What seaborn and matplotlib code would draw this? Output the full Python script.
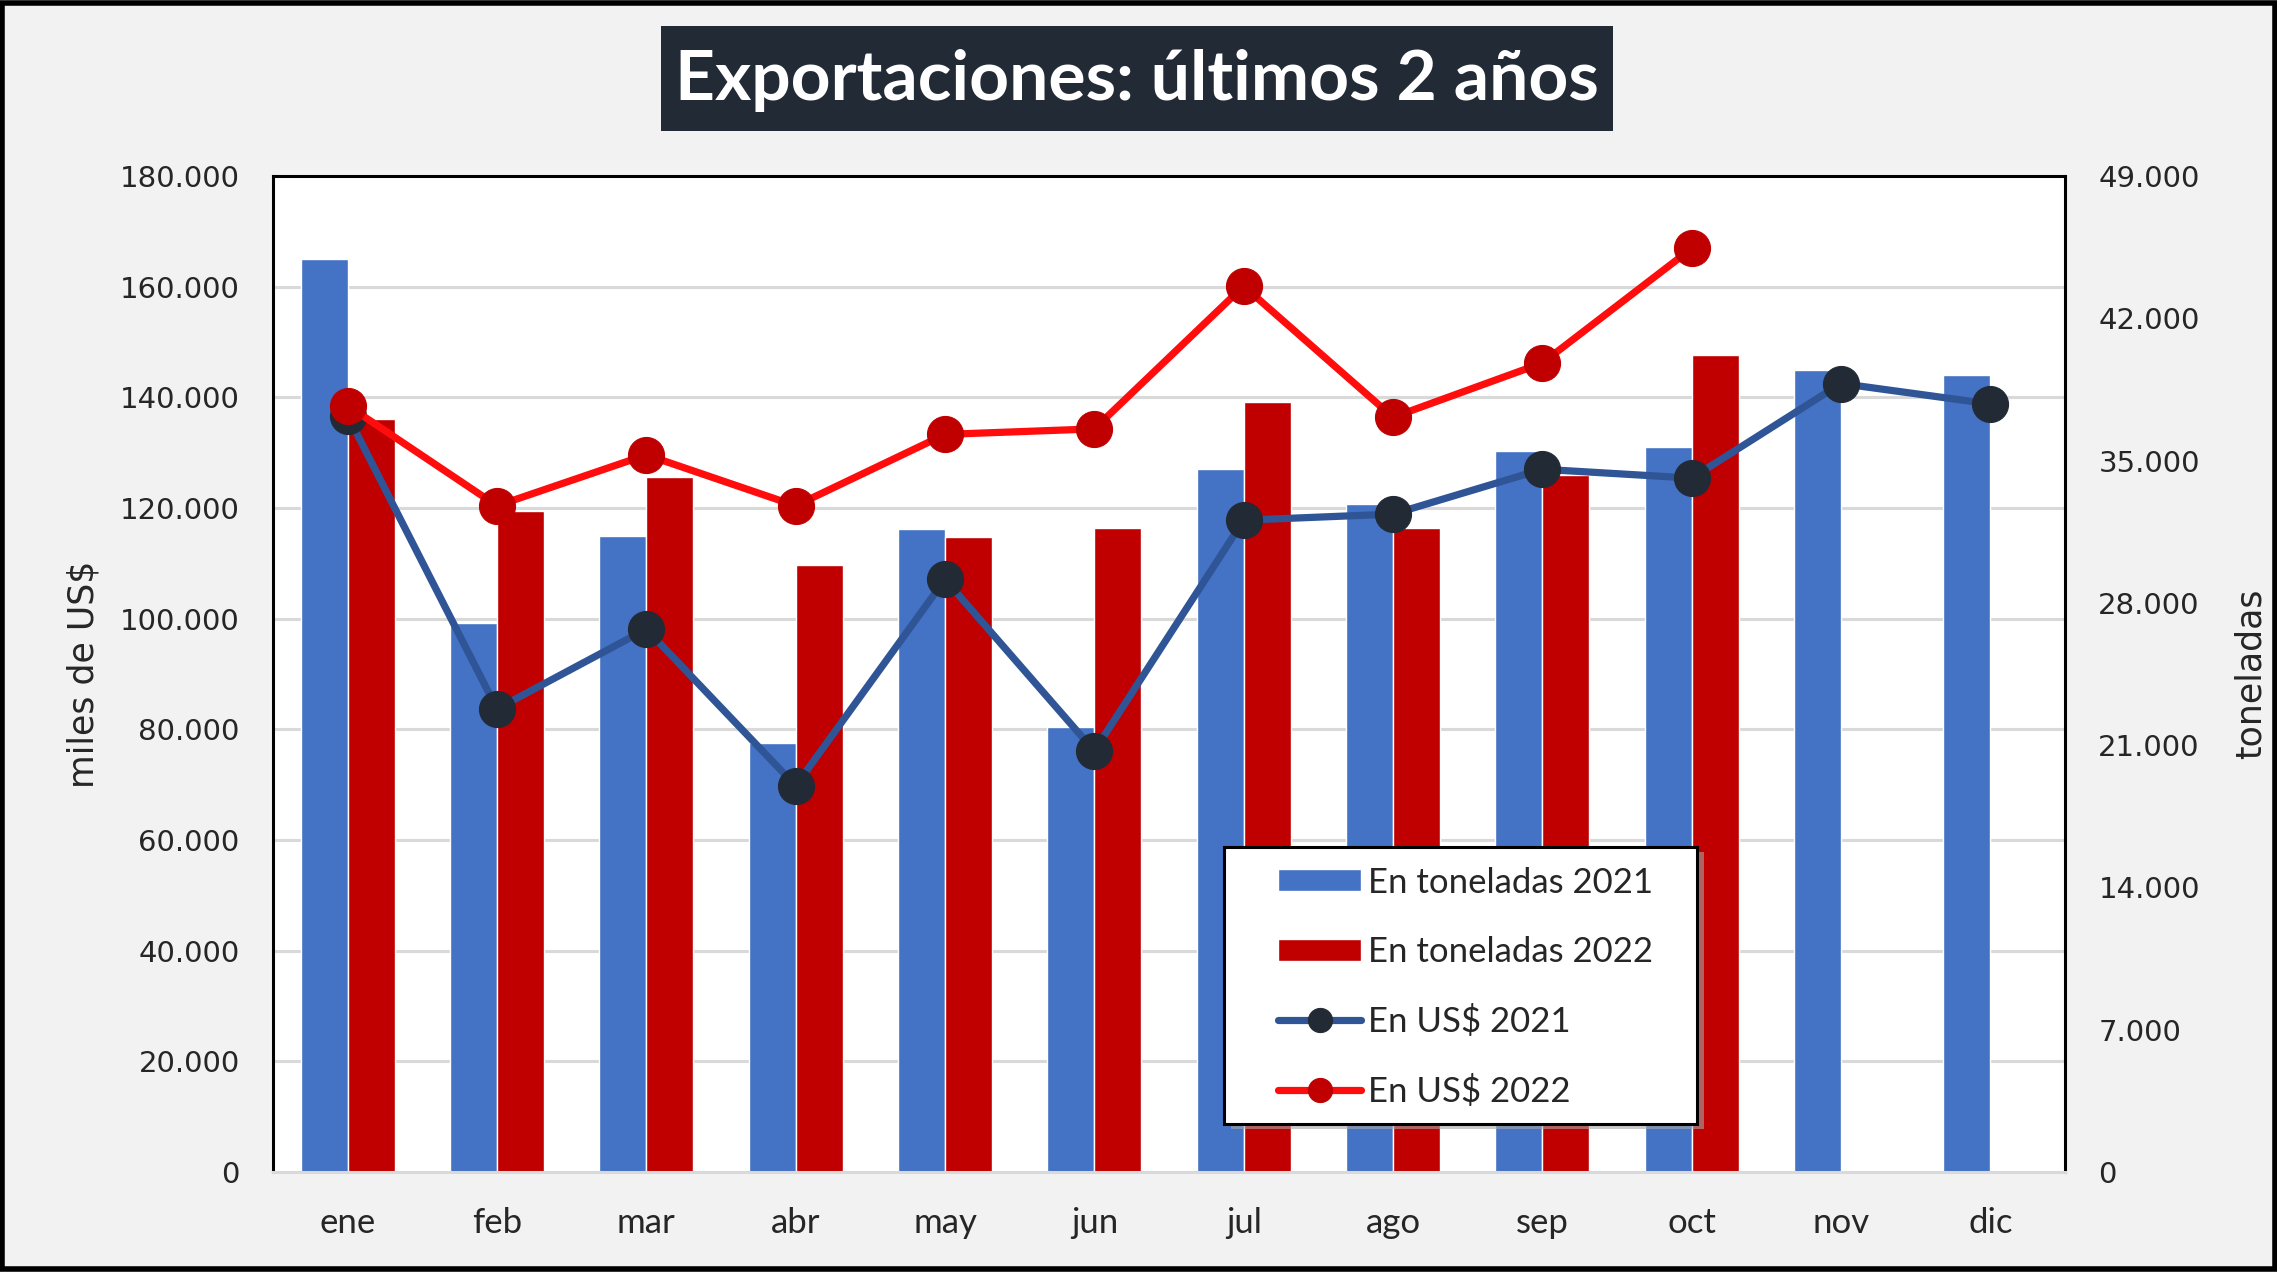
import numpy as np
import pandas as pd
import seaborn as sns
import matplotlib.pyplot as plt
from matplotlib.patches import Rectangle
from matplotlib.ticker import FixedLocator, FuncFormatter


months = ['ene', 'feb', 'mar', 'abr', 'may', 'jun', 'jul', 'ago', 'sep', 'oct', 'nov', 'dic']

# toneladas (eje derecho)
ton_2021 = [44930, 27000, 31300, 21100, 31650, 21900, 34600, 32850, 35450, 35650, 39450, 39200]
ton_2022 = [37050, 32500, 34200, 29850, 31250, 31700, 37900, 31700, 34300, 40200, np.nan, np.nan]

# miles de US$ (eje izquierdo)
usd_2021 = [136700, 83700, 98100, 69800, 107100, 76100, 117800, 118900, 127000, 125400, 142500, 138800]
usd_2022 = [138500, 120400, 129600, 120400, 133300, 134300, 160100, 136400, 146200, 166900]

bar_labels = ['En toneladas 2021', 'En toneladas 2022']
bar_colors = ['#4472C4', '#C00000']

sns.set_theme(style='white')
plt.rcParams['font.family'] = ['DejaVu Sans']

bars = pd.DataFrame({
    'mes': months * 2,
    'ton': ton_2021 + ton_2022,
    'serie': [bar_labels[0]] * 12 + [bar_labels[1]] * 12,
})
lin21 = pd.DataFrame({'mes': months, 'usd': usd_2021})
lin22 = pd.DataFrame({'mes': months[:len(usd_2022)], 'usd': usd_2022})

fig = plt.figure(figsize=(22.77, 12.72), dpi=100, facecolor='#F2F2F2')
ax = fig.add_axes([273 / 2277, 1 - 1172 / 1272, 1792 / 2277, 996 / 1272])
ax.set_facecolor('white')

sns.barplot(data=bars, x='mes', y='ton', hue='serie', order=months,
            hue_order=bar_labels, palette=bar_colors, width=0.63,
            errorbar=None, saturation=1, ax=ax, zorder=2)
fmt = FuncFormatter(lambda v, p: f'{int(v):,}'.replace(',', '.'))

ax2 = ax.twinx()
sns.lineplot(data=lin21, x='mes', y='usd', sort=False, color='#2F5597', linewidth=5.2,
             marker='o', markersize=26, markerfacecolor='#222A35', markeredgecolor='#222A35',
             label='En US$ 2021', ax=ax2)
sns.lineplot(data=lin22, x='mes', y='usd', sort=False, color='#FF0D0D', linewidth=5.2,
             marker='o', markersize=26, markerfacecolor='#C00000', markeredgecolor='#C00000',
             label='En US$ 2022', ax=ax2)

# bar axis -> right side (toneladas)
ax.set_ylim(0, 49000)
ax.yaxis.tick_right()
ax.yaxis.set_label_position('right')
ax.set_yticks(np.arange(0, 49001, 7000))
ax.yaxis.set_major_formatter(fmt)
# gridlines follow the left (US$) axis
ax.yaxis.set_minor_locator(FixedLocator(np.arange(20000, 180001, 20000) * 49000 / 180000))
ax.grid(which='minor', axis='y', color='#D9D9D9', linewidth=2.2, zorder=0)
ax.set_axisbelow(True)
ax.set_xlabel('')
ax.set_ylabel('toneladas', fontsize=25)
ax.yaxis.set_label_coords(1.094, 0.5)
ax.tick_params(axis='y', which='both', length=0, labelsize=21, pad=24)
ax.tick_params(axis='x', length=0, pad=25)
for t in ax.get_xticklabels():
    t.set_fontfamily(['Lato', 'DejaVu Sans'])
    t.set_fontsize(25)
for s in ['left', 'top', 'right']:
    ax.spines[s].set_color('black')
    ax.spines[s].set_linewidth(2.2)
ax.spines['bottom'].set_color('#D9D9D9')
ax.spines['bottom'].set_linewidth(2.2)

# line axis -> left side (miles de US$)
ax2.set_ylim(0, 180000)
ax2.set_xlim(-0.5, 11.5)
ax2.yaxis.tick_left()
ax2.yaxis.set_label_position('left')
ax2.set_yticks(np.arange(0, 180001, 20000))
ax2.yaxis.set_major_formatter(fmt)
ax2.tick_params(axis='y', length=0, labelsize=21, pad=24)
ax2.set_ylabel('miles de US$', fontsize=25)
ax2.yaxis.set_label_coords(-0.096, 0.5)
ax2.set_xlabel('')
for s in ax2.spines.values():
    s.set_visible(False)

# legend with a framed box
h1, l1 = ax.get_legend_handles_labels()
h2, l2 = ax2.get_legend_handles_labels()
ax.get_legend().remove()
ax2.get_legend().remove()
ax2.add_patch(Rectangle((0.5347, 0.0432), 0.2639, 0.2781, transform=ax2.transAxes,
                        facecolor='#A6A6A6', edgecolor='none', alpha=0.6, zorder=4.4))
ax2.add_patch(Rectangle((0.5307, 0.0482), 0.2639, 0.2781, transform=ax2.transAxes,
                        facecolor='white', edgecolor='black', linewidth=2.2, zorder=4.5))
leg = ax2.legend(h1 + h2, l1 + l2, loc='upper left', bbox_to_anchor=(0.5608, 0.3066),
                 borderaxespad=0, borderpad=0, frameon=False,
                 prop={'family': ['Lato', 'DejaVu Sans'], 'size': 25},
                 handlelength=2.4, handleheight=0.6, handletextpad=0.2,
                 labelspacing=1.07, markerscale=0.67)
leg.set_zorder(5)

# title box
fig.patches.append(Rectangle((661 / 2277, 1 - 131 / 1272), 952 / 2277, 105 / 1272,
                             transform=fig.transFigure, facecolor='#222A35',
                             edgecolor='none', zorder=0))
fig.text(1137 / 2277, 1 - 80 / 1272, 'Exportaciones: últimos 2 años', ha='center', va='center',
         color='white', fontsize=50, fontweight='bold', family=['Lato', 'DejaVu Sans'])

# outer border
fig.patches.append(Rectangle((0.001, 0.002), 0.998, 0.996, transform=fig.transFigure,
                             facecolor='none', edgecolor='black', linewidth=4))

fig.savefig('out.png', dpi=100, facecolor=fig.get_facecolor())
